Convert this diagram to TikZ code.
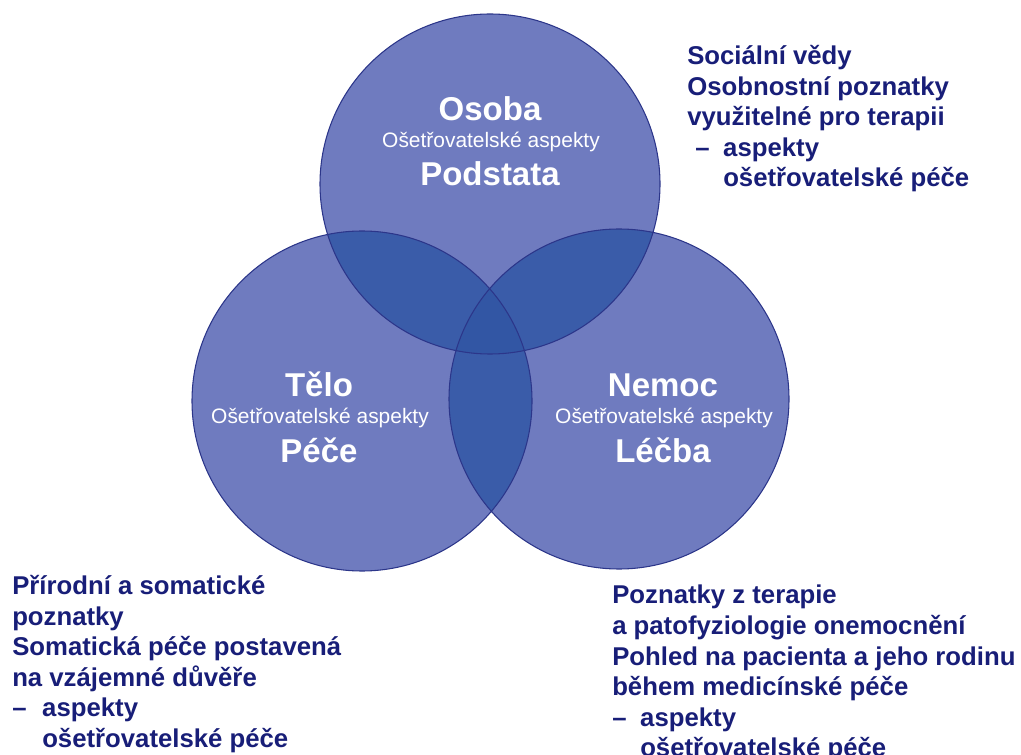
\documentclass[tikz,border=0pt]{standalone}
\usepackage{fontspec}
\setmainfont{Liberation Sans}
\usetikzlibrary{positioning}

\definecolor{vennfill}{RGB}{111,123,191}
\definecolor{venntwo}{RGB}{58,92,169}
\definecolor{vennthree}{RGB}{50,86,164}
\definecolor{vennline}{RGB}{44,54,138}
\definecolor{notenavy}{RGB}{24,30,120}

\begin{document}
\begin{tikzpicture}[x=0.75pt,y=-0.75pt,
                    circletitle/.style={text=white, font=\bfseries\fontsize{24.75}{28}\selectfont, anchor=base, inner sep=0pt},
                    circlesub/.style={text=white, font=\fontsize{15.7}{18}\selectfont, anchor=base, inner sep=0pt},
                    notetext/.style={text=notenavy, font=\bfseries\fontsize{19.3}{22.95}\selectfont, align=left, anchor=north west, inner sep=0pt},
                    venn/.style={radius=127.5pt}
                ]
                    \useasboundingbox (0,0) rectangle (1021,755);
                    \coordinate (osobaC) at (490,184);
                    \coordinate (teloC) at (362,401);
                    \coordinate (nemocC) at (619,399);
                    % single circles
                    \fill[vennfill] (osobaC) circle[venn];
                    \fill[vennfill] (teloC) circle[venn];
                    \fill[vennfill] (nemocC) circle[venn];
                    % pairwise overlaps
                    \begin{scope}
                        \clip (osobaC) circle[venn];
                        \fill[venntwo] (teloC) circle[venn];
                        \fill[venntwo] (nemocC) circle[venn];
                    \end{scope}
                    \begin{scope}
                        \clip (teloC) circle[venn];
                        \fill[venntwo] (nemocC) circle[venn];
                    \end{scope}
                    % centre overlap
                    \begin{scope}
                        \clip (osobaC) circle[venn];
                        \clip (teloC) circle[venn];
                        \fill[vennthree] (nemocC) circle[venn];
                    \end{scope}
                    \draw[vennline, line width=0.8pt] (osobaC) circle[venn] (teloC) circle[venn] (nemocC) circle[venn];

                    \node[circletitle] (osoba) at (490,121) {Osoba};
                    \node[circlesub] (osobasub) at (491,148) {Ošetřovatelské aspekty};
                    \node[circletitle] (podstata) at (490,186) {Podstata};

                    \node[circletitle] (telo) at (319,397) {Tělo};
                    \node[circlesub] (telosub) at (320,424) {Ošetřovatelské aspekty};
                    \node[circletitle] (pece) at (319,462) {Péče};

                    \node[circletitle] (nemoc) at (663,397) {Nemoc};
                    \node[circlesub] (nemocsub) at (664,424) {Ošetřovatelské aspekty};
                    \node[circletitle] (lecba) at (663,462) {Léčba};

                    \node[notetext] (osobanote) at (687,45) {Sociální vědy\\Osobnostní poznatky\\využitelné pro terapii\\\hspace*{6pt}\makebox[21pt][l]{–}aspekty\\\hspace*{27pt}ošetřovatelské péče};
                    \node[notetext] (telonote) at (12,575) {Přírodní a somatické\\poznatky\\Somatická péče postavená\\na vzájemné důvěře\\\makebox[22.5pt][l]{–}aspekty\\\hspace*{22.5pt}ošetřovatelské péče};
                    \node[notetext] (nemocnote) at (612,585) {Poznatky z terapie\\a patofyziologie onemocnění\\Pohled na pacienta a jeho rodinu\\během medicínské péče\\\makebox[21pt][l]{–}aspekty\\\hspace*{21pt}ošetřovatelské péče};
                \end{tikzpicture}
\end{document}
